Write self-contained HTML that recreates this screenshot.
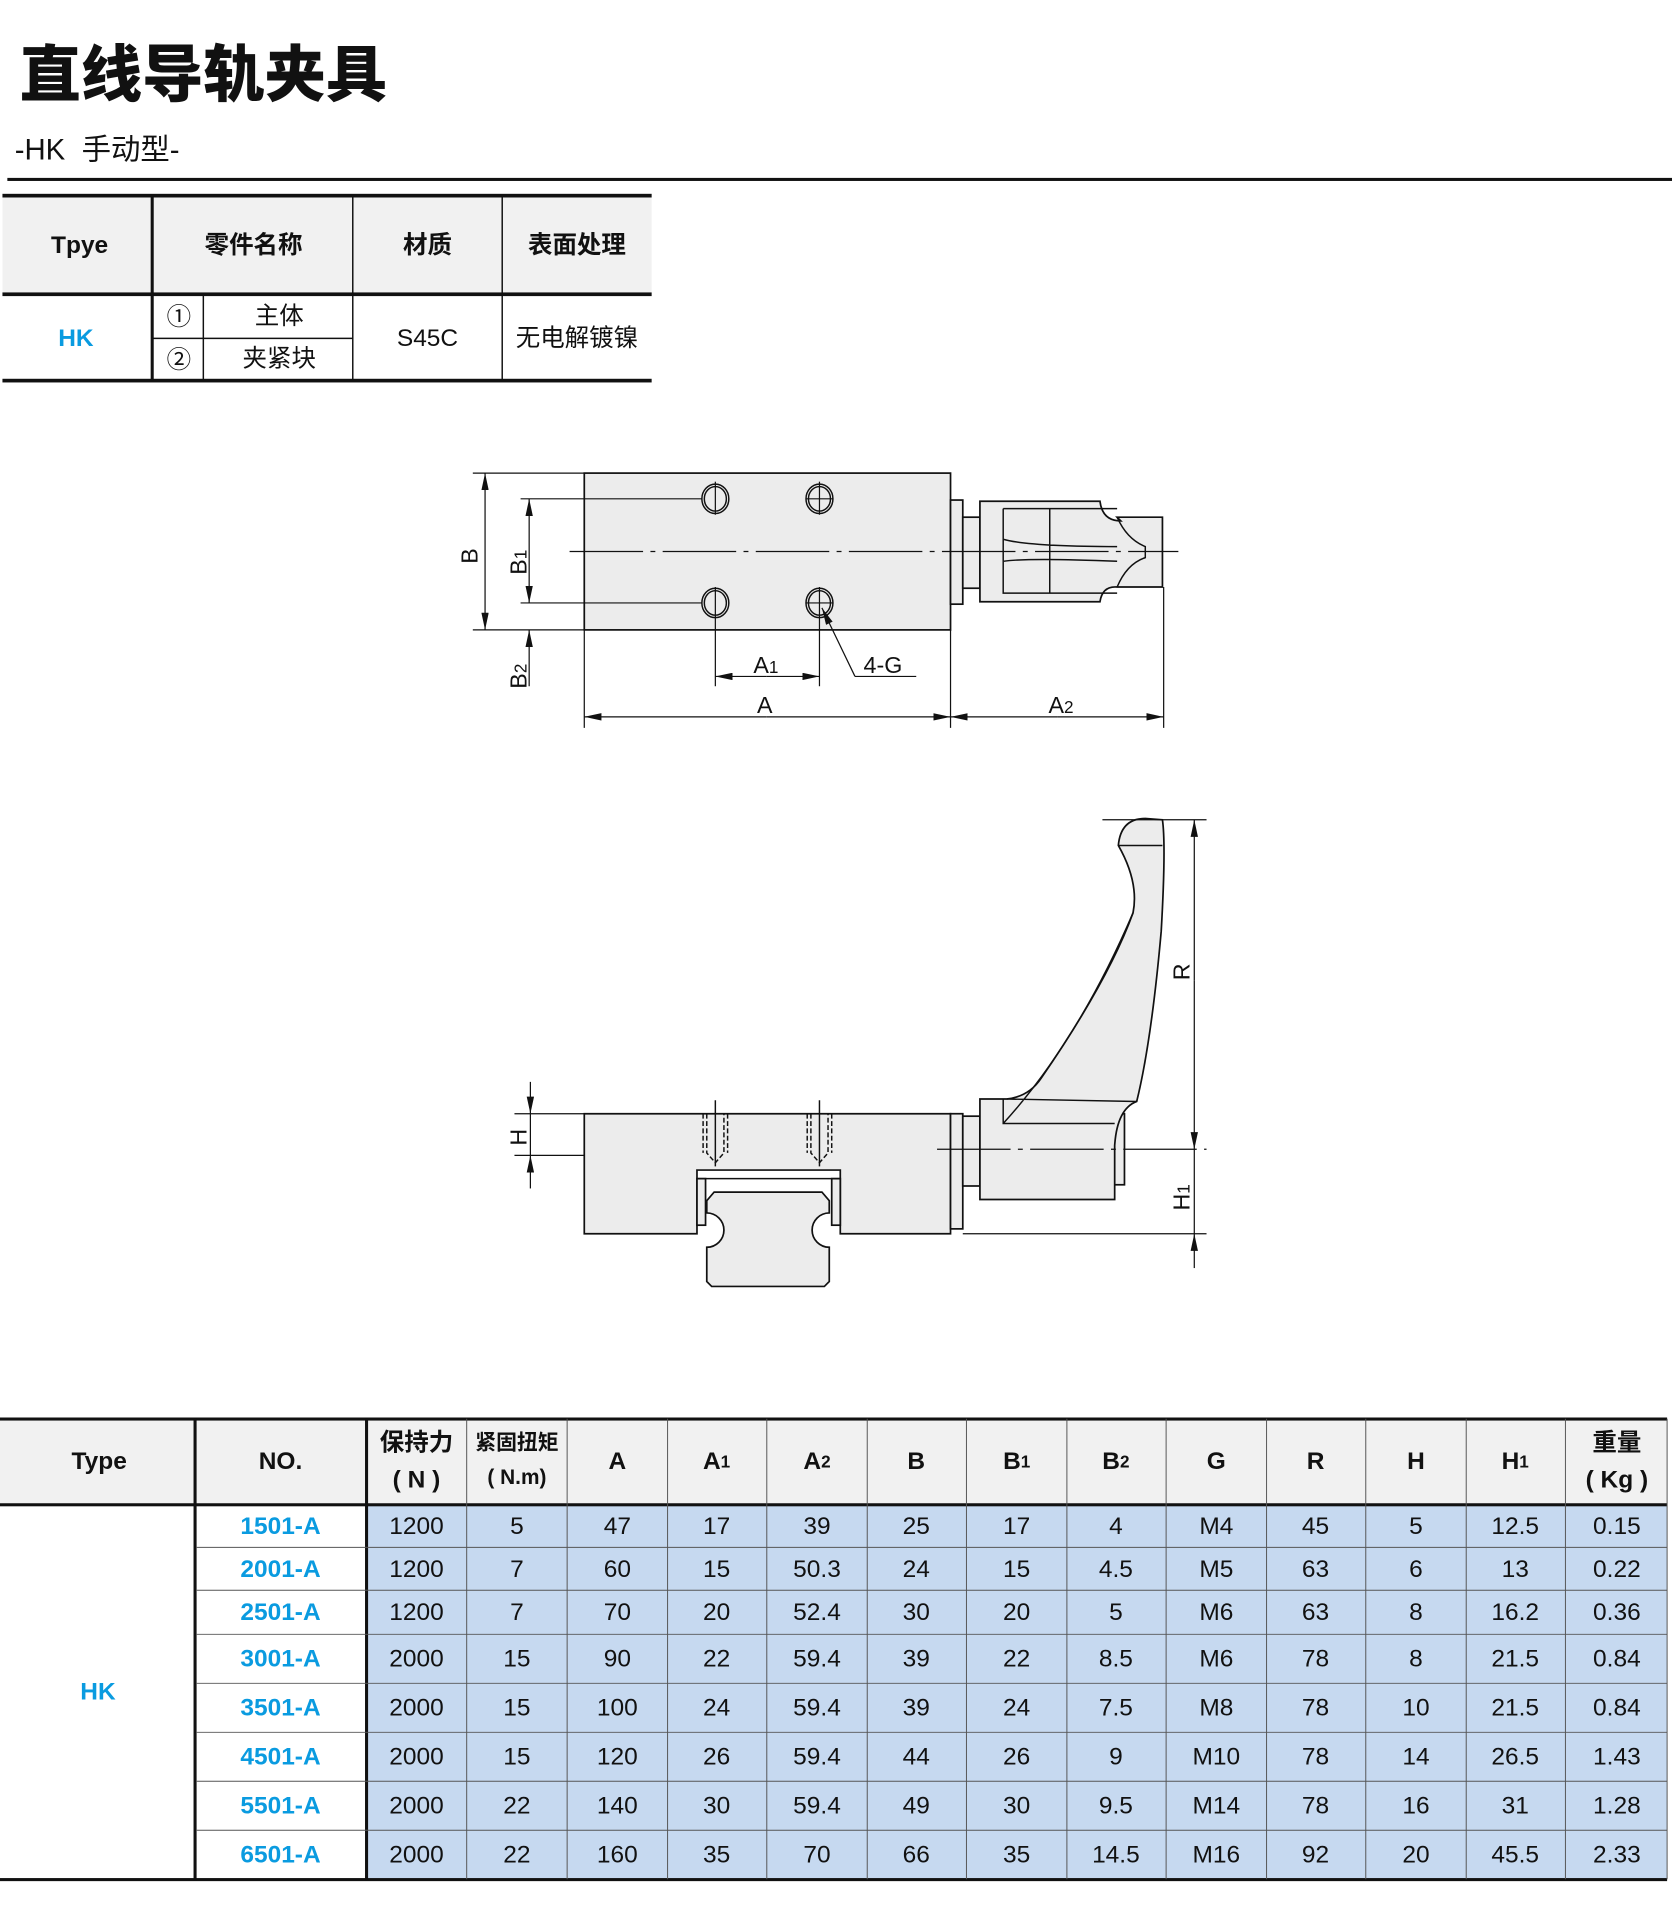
<!DOCTYPE html>
<html><head><meta charset="utf-8"><style>
html,body{margin:0;padding:0;background:#fff}
svg{display:block}
text{font-family:"Liberation Sans","Noto Sans CJK SC",sans-serif;fill:#111}
.c{text-anchor:middle;dominant-baseline:central}
.b{font-weight:bold}
text.blue,.blue text{fill:#0a9be0}
.ln{stroke:#111;fill:none;stroke-width:1.2}
.part{fill:#ececec;stroke:#111;stroke-width:1.4}
.dim{stroke:#111;stroke-width:1;fill:none}
.cl{stroke:#111;stroke-width:1;stroke-dasharray:60 6 4 6;fill:none}
</style></head><body>
<svg width="1672" height="1920" viewBox="0 0 1365 1567" xmlns="http://www.w3.org/2000/svg">
<defs>
<marker id="ar" markerWidth="14" markerHeight="6" refX="14" refY="3" orient="auto" markerUnits="userSpaceOnUse">
<path d="M0,0 L14,3 L0,6 z" fill="#111"/></marker>
</defs>
<!-- title -->
<text x="16" y="78" class="b" style="font-size:50px;font-weight:900">直线导轨夹具</text>
<text x="12" y="130" style="font-size:24px">-HK&#160; 手动型-</text>
<rect x="6" y="145" width="1359" height="2.5" fill="#111"/>

<!-- top table -->
<rect x="2" y="160" width="530" height="80" fill="#f1f1f1"/>
<rect x="2" y="158" width="530" height="3" fill="#111"/>
<rect x="2" y="238.5" width="530" height="3" fill="#111"/>
<rect x="2" y="309" width="530" height="3" fill="#111"/>
<rect x="123" y="160" width="2.5" height="150" fill="#111"/>
<line x1="166" y1="240" x2="166" y2="310" class="ln" stroke-width="0.8"/>
<line x1="288" y1="160" x2="288" y2="310" class="ln" stroke-width="0.8"/>
<line x1="410" y1="160" x2="410" y2="310" class="ln" stroke-width="0.8"/>
<line x1="125" y1="276" x2="288" y2="276" class="ln" stroke-width="0.8"/>
<text x="65" y="200" class="c b" style="font-size:20px">Tpye</text>
<text x="207" y="200" class="c b" style="font-size:20px">零件名称</text>
<text x="349" y="200" class="c b" style="font-size:20px">材质</text>
<text x="471" y="200" class="c b" style="font-size:20px">表面处理</text>
<text x="62" y="276" class="c b blue" style="font-size:20px">HK</text>
<text x="146" y="259" class="c" style="font-size:20px">①</text>
<text x="146" y="294" class="c" style="font-size:20px">②</text>
<text x="228" y="258" class="c" style="font-size:20px">主体</text>
<text x="228" y="293" class="c" style="font-size:20px">夹紧块</text>
<text x="349" y="276" class="c" style="font-size:20px">S45C</text>
<text x="471" y="276" class="c" style="font-size:20px">无电解镀镍</text>

<!-- TOP VIEW -->
<rect x="477" y="386" width="299" height="128" class="part"/>
<rect x="776" y="408" width="10" height="85" class="part"/>
<rect x="786" y="422" width="14" height="58" class="part"/>
<path d="M800,409 L898,409 Q900,425 915,425 L912,422 L949,422 L949,479 L912,479 Q900,478 898,491 L800,491 Z" class="part"/>
<path d="M819,415 L912,415 M819,415 L819,484 L912,484 M857,415 L857,484 M819,440 Q840,446 912,446 M819,458 Q840,455 912,458" class="ln" stroke-width="1"/>
<path d="M912,422 Q920,440 935,446 L935,455 Q920,460 912,479" class="ln" stroke-width="1"/>
<line x1="465" y1="450" x2="962" y2="450" class="cl"/>
<!-- holes -->
<g class="ln">
<ellipse cx="584" cy="407" rx="11" ry="12"/><ellipse cx="584" cy="407" rx="9" ry="10"/>
<ellipse cx="669" cy="407" rx="11" ry="12"/><ellipse cx="669" cy="407" rx="9" ry="10"/>
<ellipse cx="584" cy="492" rx="11" ry="12"/><ellipse cx="584" cy="492" rx="9" ry="10"/>
<ellipse cx="669" cy="492" rx="11" ry="12"/><ellipse cx="669" cy="492" rx="9" ry="10"/>
</g>
<g class="dim">
<line x1="386" y1="386" x2="477" y2="386"/>
<line x1="386" y1="514" x2="477" y2="514"/>
<line x1="425" y1="407" x2="573" y2="407"/><line x1="658" y1="407" x2="680" y2="407"/>
<line x1="425" y1="492" x2="573" y2="492"/><line x1="658" y1="492" x2="680" y2="492"/>
<line x1="584" y1="393" x2="584" y2="420"/><line x1="669" y1="393" x2="669" y2="420"/>
<line x1="584" y1="479" x2="584" y2="560"/><line x1="669" y1="479" x2="669" y2="560"/>
<line x1="396" y1="450" x2="396" y2="386" marker-end="url(#ar)"/>
<line x1="396" y1="450" x2="396" y2="514" marker-end="url(#ar)"/>
<line x1="432" y1="450" x2="432" y2="407" marker-end="url(#ar)"/>
<line x1="432" y1="450" x2="432" y2="492" marker-end="url(#ar)"/>
<line x1="432" y1="560" x2="432" y2="514" marker-end="url(#ar)"/>
<line x1="626" y1="552" x2="584" y2="552" marker-end="url(#ar)"/>
<line x1="626" y1="552" x2="669" y2="552" marker-end="url(#ar)"/>
<line x1="698" y1="552" x2="671" y2="496" marker-end="url(#ar)"/>
<line x1="698" y1="552" x2="748" y2="552"/>
<line x1="477" y1="514" x2="477" y2="594"/>
<line x1="776" y1="514" x2="776" y2="594"/>
<line x1="950" y1="479" x2="950" y2="594"/>
<line x1="626" y1="585" x2="477" y2="585" marker-end="url(#ar)"/>
<line x1="626" y1="585" x2="776" y2="585" marker-end="url(#ar)"/>
<line x1="863" y1="585" x2="776" y2="585" marker-end="url(#ar)"/>
<line x1="863" y1="585" x2="950" y2="585" marker-end="url(#ar)"/>
</g>
<g style="font-size:19px">
<text x="390" y="460" transform="rotate(-90 390 460)">B</text>
<text x="430" y="469" transform="rotate(-90 430 469)">B<tspan style="font-size:14px">1</tspan></text>
<text x="430" y="562" transform="rotate(-90 430 562)">B<tspan style="font-size:14px">2</tspan></text>
<text x="615" y="549">A<tspan style="font-size:14px">1</tspan></text>
<text x="705" y="549">4-G</text>
<text x="618" y="582">A</text>
<text x="856" y="582">A<tspan style="font-size:14px">2</tspan></text>
</g>

<!-- SIDE VIEW -->
<path d="M477,909 L776,909 L776,1007 L686,1007 L686,955 L569,955 L569,1007 L477,1007 Z" class="part"/>
<line x1="569" y1="962" x2="686" y2="962" class="ln"/>
<rect x="569" y="962" width="7" height="38" class="part"/>
<rect x="679" y="962" width="7" height="38" class="part"/>
<path d="M583,973 L671,973 L677,980 L677,990 A10,10 0 0 0 677,1018 L677,1046 L673,1050 L581,1050 L577,1046 L577,1018 A10,10 0 0 0 577,990 L577,980 Z" class="part"/>
<g class="ln" stroke-width="0.9">
<path d="M577,909 V941 L584,949 L591,941 V909" stroke-dasharray="4 2"/>
<path d="M574,909 V941 M594,909 V941" stroke-dasharray="4 2"/>
<path d="M662,909 V941 L669,949 L676,941 V909" stroke-dasharray="4 2"/>
<path d="M659,909 V941 M679,909 V941" stroke-dasharray="4 2"/>
<line x1="584" y1="898" x2="584" y2="952"/>
<line x1="669" y1="898" x2="669" y2="952"/>
</g>
<rect x="776" y="909" width="10" height="94" class="part"/>
<rect x="786" y="911" width="14" height="57" class="part"/>
<rect x="898" y="909" width="20" height="58" class="part"/>
<path d="M800,897 L822,897 Q840,895 850,880 Q905,800 925,745 Q930,720 913,690 Q915,668 935,668 L949,669 Q952,690 948,760 Q940,850 928,899 Q912,905 910,935 L910,979 L800,979 Z" class="part"/>
<path d="M913,690 L949,690 M822,897 L928,899 M819,897 V917 L910,917 M819,917 Q880,850 925,745" class="ln" stroke-width="1"/>
<line x1="765" y1="938" x2="985" y2="938" class="cl"/>
<g class="dim">
<line x1="420" y1="909" x2="477" y2="909"/>
<line x1="420" y1="943" x2="477" y2="943"/>
<line x1="433" y1="883" x2="433" y2="909" marker-end="url(#ar)"/>
<line x1="433" y1="970" x2="433" y2="943" marker-end="url(#ar)"/>
<line x1="433" y1="909" x2="433" y2="943"/>
<line x1="900" y1="669" x2="985" y2="669"/>
<line x1="786" y1="1007" x2="985" y2="1007"/>
<line x1="975" y1="800" x2="975" y2="669" marker-end="url(#ar)"/>
<line x1="975" y1="800" x2="975" y2="938" marker-end="url(#ar)"/>
<line x1="975" y1="938" x2="975" y2="1007"/>
<line x1="975" y1="1035" x2="975" y2="1007" marker-end="url(#ar)"/>
</g>
<g style="font-size:19px">
<text x="430" y="935" transform="rotate(-90 430 935)">H</text>
<text x="971" y="800" transform="rotate(-90 971 800)">R</text>
<text x="971" y="988" transform="rotate(-90 971 988)">H<tspan style="font-size:14px">1</tspan></text>
</g>

<!-- BOTTOM TABLE -->
<rect x="0" y="1159" width="1361" height="69" fill="#f1f1f1"/>
<rect x="299" y="1228" width="1062" height="306" fill="#c6d9f0"/>
<rect x="0" y="1157" width="1361" height="2.5" fill="#111"/>
<rect x="0" y="1227" width="1361" height="2.5" fill="#111"/>
<rect x="0" y="1533" width="1361" height="2.5" fill="#111"/>
<rect x="158" y="1158" width="2.5" height="377" fill="#111"/>
<rect x="298" y="1158" width="2.5" height="377" fill="#111"/>
<g stroke="#555" stroke-width="0.8">
<line x1="381" y1="1158" x2="381" y2="1534"/><line x1="463" y1="1158" x2="463" y2="1534"/>
<line x1="545" y1="1158" x2="545" y2="1534"/><line x1="626" y1="1158" x2="626" y2="1534"/>
<line x1="708" y1="1158" x2="708" y2="1534"/><line x1="789" y1="1158" x2="789" y2="1534"/>
<line x1="871" y1="1158" x2="871" y2="1534"/><line x1="952" y1="1158" x2="952" y2="1534"/>
<line x1="1034" y1="1158" x2="1034" y2="1534"/><line x1="1115" y1="1158" x2="1115" y2="1534"/>
<line x1="1197" y1="1158" x2="1197" y2="1534"/><line x1="1278" y1="1158" x2="1278" y2="1534"/>
<line x1="1361" y1="1158" x2="1361" y2="1534"/>
<line x1="160" y1="1263" x2="1361" y2="1263"/><line x1="160" y1="1298" x2="1361" y2="1298"/>
<line x1="160" y1="1334" x2="1361" y2="1334"/><line x1="160" y1="1374" x2="1361" y2="1374"/>
<line x1="160" y1="1414" x2="1361" y2="1414"/><line x1="160" y1="1454" x2="1361" y2="1454"/>
<line x1="160" y1="1494" x2="1361" y2="1494"/>
</g>
<g class="b" style="font-size:20px">
<text x="81" y="1193" class="c">Type</text>
<text x="229" y="1193" class="c">NO.</text>
<text x="340" y="1178" class="c">保持力</text>
<text x="340" y="1208" class="c">( N )</text>
<text x="422" y="1178" class="c" style="font-size:17px">紧固扭矩</text>
<text x="422" y="1206" class="c" style="font-size:17px">( N.m)</text>
<text x="504" y="1193" class="c">A</text>
<text x="585" y="1193" class="c">A<tspan style="font-size:14px">1</tspan></text>
<text x="667" y="1193" class="c">A<tspan style="font-size:14px">2</tspan></text>
<text x="748" y="1193" class="c">B</text>
<text x="830" y="1193" class="c">B<tspan style="font-size:14px">1</tspan></text>
<text x="911" y="1193" class="c">B<tspan style="font-size:14px">2</tspan></text>
<text x="993" y="1193" class="c">G</text>
<text x="1074" y="1193" class="c">R</text>
<text x="1156" y="1193" class="c">H</text>
<text x="1237" y="1193" class="c">H<tspan style="font-size:14px">1</tspan></text>
<text x="1320" y="1178" class="c">重量</text>
<text x="1320" y="1208" class="c">( Kg )</text>
<text x="80" y="1381" class="c blue">HK</text>
</g>
<g style="font-size:20px" class="c">
<g class="b blue">
<text x="229" y="1246">1501-A</text><text x="229" y="1281">2001-A</text><text x="229" y="1316">2501-A</text>
<text x="229" y="1354">3001-A</text><text x="229" y="1394">3501-A</text><text x="229" y="1434">4501-A</text>
<text x="229" y="1474">5501-A</text><text x="229" y="1514">6501-A</text>
</g>
<g transform="translate(0,1246)"><text x="340">1200</text><text x="422">5</text><text x="504">47</text><text x="585">17</text><text x="667">39</text><text x="748">25</text><text x="830">17</text><text x="911">4</text><text x="993">M4</text><text x="1074">45</text><text x="1156">5</text><text x="1237">12.5</text><text x="1320">0.15</text></g>
<g transform="translate(0,1281)"><text x="340">1200</text><text x="422">7</text><text x="504">60</text><text x="585">15</text><text x="667">50.3</text><text x="748">24</text><text x="830">15</text><text x="911">4.5</text><text x="993">M5</text><text x="1074">63</text><text x="1156">6</text><text x="1237">13</text><text x="1320">0.22</text></g>
<g transform="translate(0,1316)"><text x="340">1200</text><text x="422">7</text><text x="504">70</text><text x="585">20</text><text x="667">52.4</text><text x="748">30</text><text x="830">20</text><text x="911">5</text><text x="993">M6</text><text x="1074">63</text><text x="1156">8</text><text x="1237">16.2</text><text x="1320">0.36</text></g>
<g transform="translate(0,1354)"><text x="340">2000</text><text x="422">15</text><text x="504">90</text><text x="585">22</text><text x="667">59.4</text><text x="748">39</text><text x="830">22</text><text x="911">8.5</text><text x="993">M6</text><text x="1074">78</text><text x="1156">8</text><text x="1237">21.5</text><text x="1320">0.84</text></g>
<g transform="translate(0,1394)"><text x="340">2000</text><text x="422">15</text><text x="504">100</text><text x="585">24</text><text x="667">59.4</text><text x="748">39</text><text x="830">24</text><text x="911">7.5</text><text x="993">M8</text><text x="1074">78</text><text x="1156">10</text><text x="1237">21.5</text><text x="1320">0.84</text></g>
<g transform="translate(0,1434)"><text x="340">2000</text><text x="422">15</text><text x="504">120</text><text x="585">26</text><text x="667">59.4</text><text x="748">44</text><text x="830">26</text><text x="911">9</text><text x="993">M10</text><text x="1074">78</text><text x="1156">14</text><text x="1237">26.5</text><text x="1320">1.43</text></g>
<g transform="translate(0,1474)"><text x="340">2000</text><text x="422">22</text><text x="504">140</text><text x="585">30</text><text x="667">59.4</text><text x="748">49</text><text x="830">30</text><text x="911">9.5</text><text x="993">M14</text><text x="1074">78</text><text x="1156">16</text><text x="1237">31</text><text x="1320">1.28</text></g>
<g transform="translate(0,1514)"><text x="340">2000</text><text x="422">22</text><text x="504">160</text><text x="585">35</text><text x="667">70</text><text x="748">66</text><text x="830">35</text><text x="911">14.5</text><text x="993">M16</text><text x="1074">92</text><text x="1156">20</text><text x="1237">45.5</text><text x="1320">2.33</text></g>
</g>
</svg>
</body></html>
